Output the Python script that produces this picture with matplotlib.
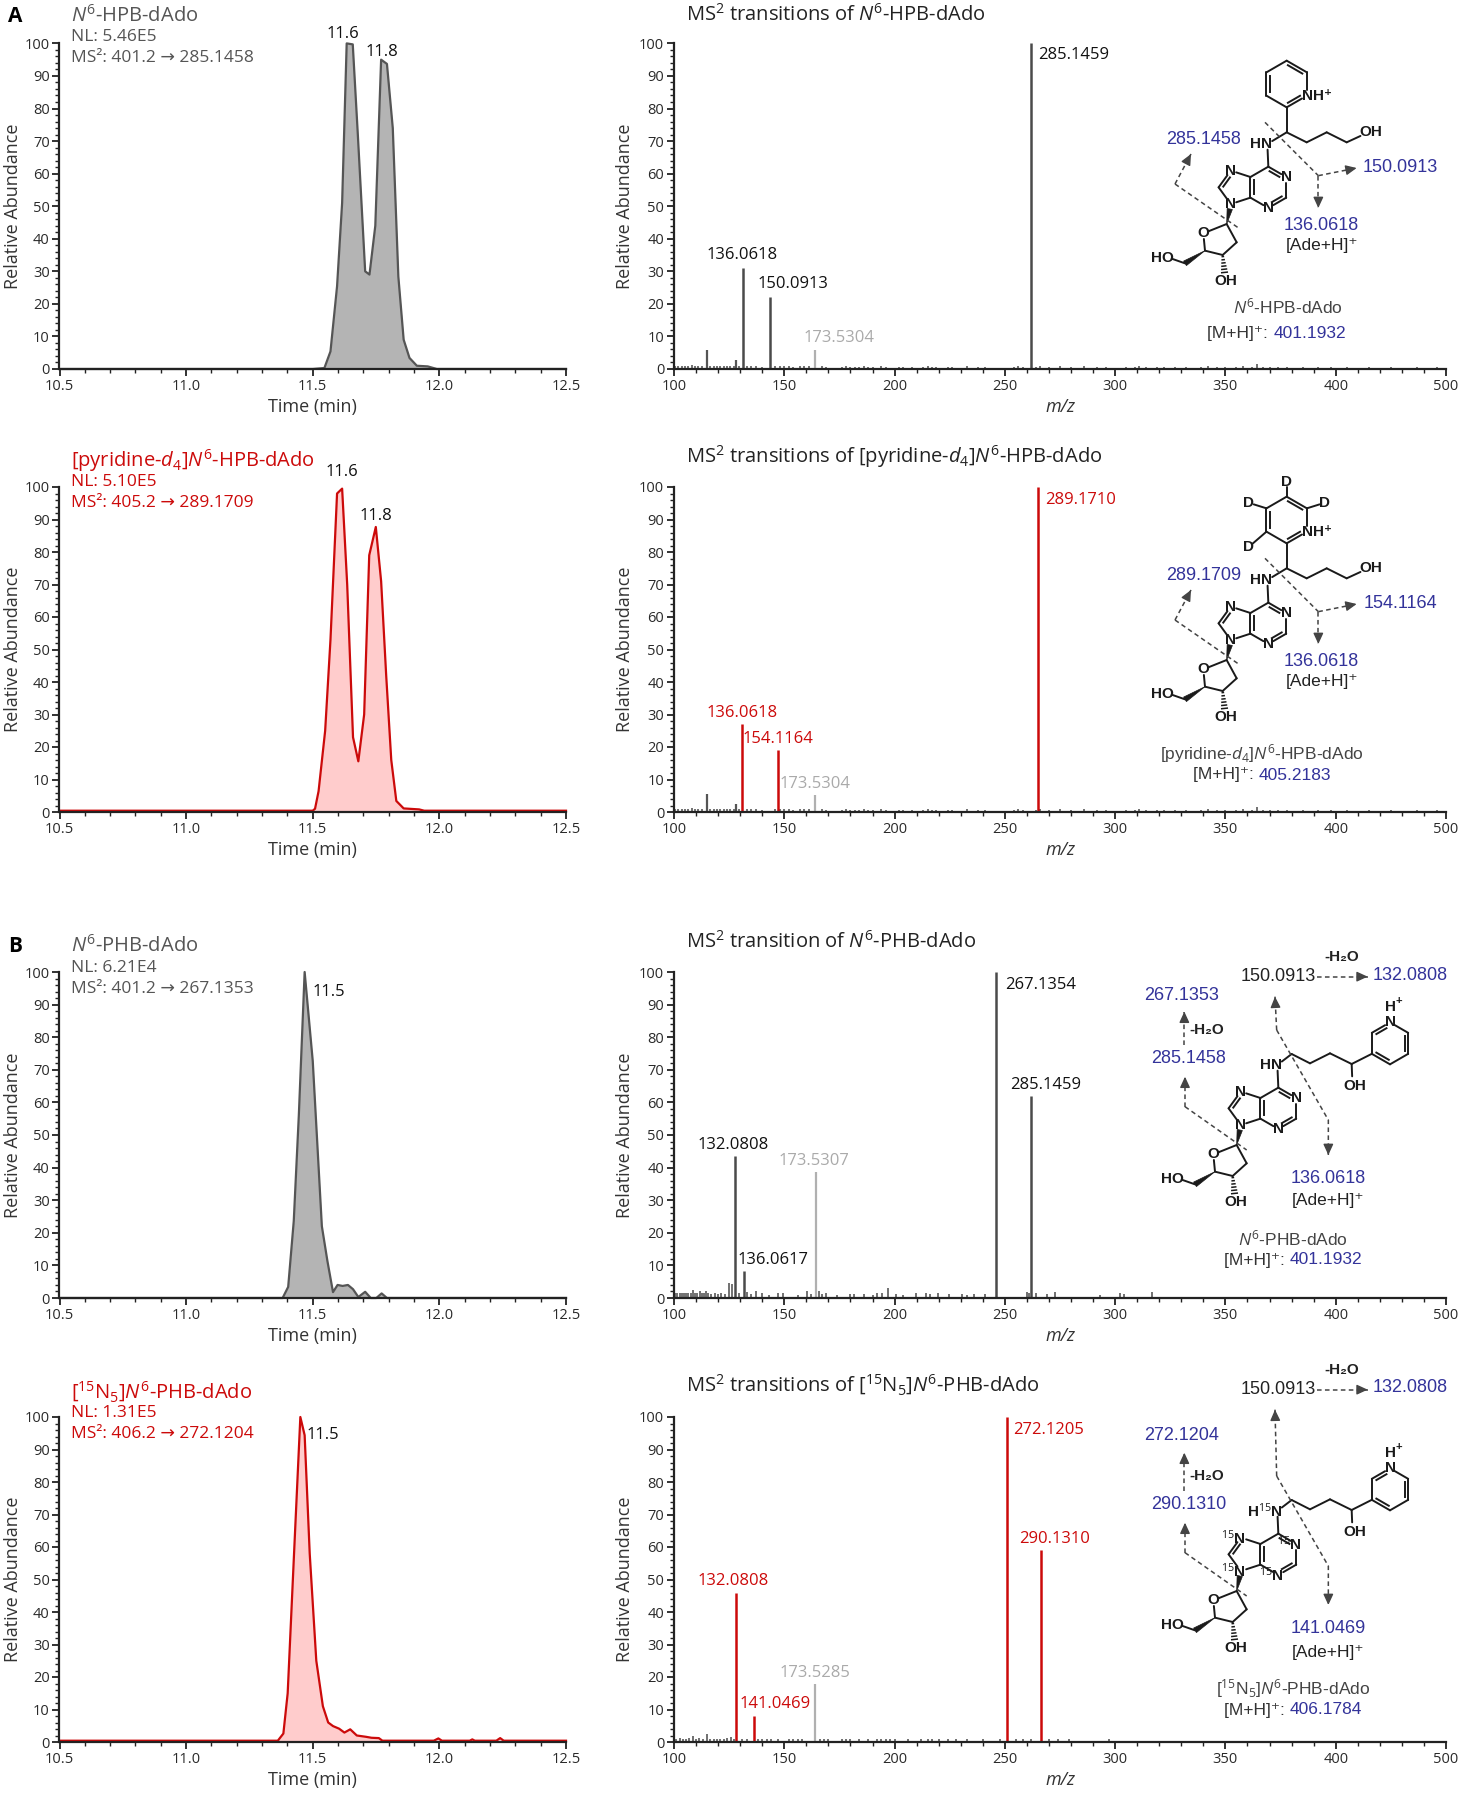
import matplotlib
matplotlib.use("Agg")
import matplotlib.pyplot as plt
import numpy as np
from matplotlib.patches import Polygon
from matplotlib.offsetbox import TextArea, HPacker, AnnotationBbox
from matplotlib.ticker import MultipleLocator, FixedLocator

W, H = 1463, 1800
plt.rcParams["font.family"] = ["Open Sans", "DejaVu Sans"]
plt.rcParams["mathtext.fontset"] = "custom"
plt.rcParams["mathtext.rm"] = "Open Sans"
plt.rcParams["mathtext.it"] = "Open Sans:italic"
plt.rcParams["mathtext.bf"] = "Open Sans:bold"

GREY_LINE = "#555555"
GREY_FILL = "#b4b4b4"
RED_LINE = "#cc0a0a"
RED_FILL = "#ffcccc"
BLUE = "#33339a"
GHOST = "#aaaaaa"
STRUCT_FONT = ["Liberation Sans", "DejaVu Sans"]

# === CHROMATOGRAMS (time in min, relative abundance) ===
A1_T = [10.5, 11.50, 11.546, 11.570, 11.596, 11.616, 11.634, 11.658, 11.678, 11.707, 11.724,
        11.747, 11.770, 11.793, 11.816, 11.838, 11.859, 11.882, 11.911, 11.954, 11.99, 12.5]
A1_Y = [0, 0, 0.3, 5.4, 25.4, 51, 100, 99.7, 72, 30, 29, 44, 95, 93.7, 74, 28.4, 9, 3.4, 1,
        0.8, 0, 0]
A2_T = [10.5, 11.50, 11.509, 11.523, 11.549, 11.570, 11.596, 11.616, 11.636, 11.659, 11.680,
        11.703, 11.723, 11.749, 11.770, 11.790, 11.810, 11.830, 11.859, 11.920, 11.94, 12.5]
A2_Y = [0.4, 0.4, 1, 6.4, 25, 53, 98, 99.5, 70, 23, 15.6, 30, 79, 87.7, 71, 42, 16, 3.4, 1.1,
        0.8, 0.4, 0.4]
B3_T = [10.5, 11.381, 11.403, 11.425, 11.445, 11.468, 11.50, 11.536, 11.558, 11.58, 11.598,
        11.618, 11.639, 11.659, 11.68, 11.707, 11.729, 11.751, 11.772, 11.793, 12.5]
B3_Y = [0, 0, 3.4, 23.6, 56, 100, 72.7, 22, 11.3, 1.8, 4, 3.7, 4, 2.7, 0.3, 1.9, 0, 0, 1.4, 0, 0]
B4_T = [10.5, 11.362, 11.384, 11.401, 11.425, 11.451, 11.468, 11.488, 11.514, 11.540, 11.561,
        11.580, 11.604, 11.625, 11.648, 11.674, 11.71, 11.732, 11.761, 11.775, 11.978, 11.996,
        12.01, 12.12, 12.13, 12.14, 12.225, 12.24, 12.254, 12.5]
B4_Y = [0.4, 0.4, 2.6, 15, 56, 100, 94.4, 58, 25, 11, 6, 4.9, 4.1, 2.9, 3.9, 2, 1.6, 1.3, 1.2,
        0.4, 0.4, 1.1, 0.4, 0.4, 0.8, 0.4, 0.4, 1.2, 0.4, 0.4]

A1_PEAKS = [("11.6", 11.62, 103), ("11.8", 11.775, 97.5)]
A2_PEAKS = [("11.6", 11.616, 104.5), ("11.8", 11.749, 91)]
B3_PEAKS = [("11.5", 11.562, 94)]
B4_PEAKS = [("11.5", 11.540, 94.5)]

CHROM_XTICKS = [10.5, 11.0, 11.5, 12.0, 12.5]

# === MS2 SPECTRA (position on the drawn m/z axis, relative abundance) ===
A1_MAIN_MZ = [131.2, 143.6, 262.0]
A1_MAIN_H = [31, 22, 100]
A1_OTHER_MZ = [114.9, 128.2]
A1_OTHER_H = [5.9, 2.7]
A1_GHOST_MZ = [164.0]
A1_GHOST_H = [5.9]

A2_MAIN_MZ = [131.0, 147.2, 265.2]
A2_MAIN_H = [27, 19, 100]
A2_OTHER_MZ = [114.9, 128.2]
A2_OTHER_H = [5.5, 2.5]
A2_GHOST_MZ = [164.0]
A2_GHOST_H = [5.2]

B3_MAIN_MZ = [127.8, 131.6, 245.9, 262.0]
B3_MAIN_H = [43.5, 8.4, 100, 62]
B3_GHOST_MZ = [164.3]
B3_GHOST_H = [38.7]

B4_MAIN_MZ = [128.2, 136.2, 250.9, 266.5]
B4_MAIN_H = [46, 8, 100, 59]
B4_GHOST_MZ = [164.0]
B4_GHOST_H = [18]

HPB_NOISE = [(100.5, 1.0), (102.0, 1.0), (103.5, 0.9), (105.0, 1.0), (106.5, 1.0), (108.0, 1.1),
             (109.5, 1.0), (111.0, 1.0), (112.5, 0.9), (116.5, 1.0), (118.0, 1.0), (119.5, 0.9),
             (121.0, 1.0), (122.5, 1.0), (124.0, 0.9), (125.5, 1.0), (127.0, 1.0), (129.5, 0.9),
             (133.0, 0.8), (135.0, 0.8), (137.0, 0.8), (140.0, 0.7), (146.0, 0.8), (148.0, 0.8),
             (150.0, 0.8), (152.0, 0.8), (154.0, 0.7), (157.0, 0.8), (159.0, 0.8), (161.0, 0.8),
             (167.0, 0.8), (169.0, 0.7), (176.0, 0.7), (178.0, 0.8), (180.0, 0.7), (182.0, 0.7),
             (184.0, 0.7), (186.0, 0.8), (188.0, 0.7), (190.0, 0.7), (194.0, 0.8), (196.0, 0.7),
             (202.0, 0.7), (204.0, 0.7), (208.0, 0.7), (213.0, 0.7), (215.0, 0.8), (217.0, 0.7),
             (219.0, 0.7), (224.0, 0.7), (226.0, 0.7), (233.0, 0.8), (238.0, 0.7), (241.0, 0.7),
             (254.0, 0.7), (256.0, 0.8), (258.0, 0.7), (264.0, 0.7), (266.0, 0.8), (270.0, 0.7),
             (275.0, 0.8), (280.0, 0.7), (286.0, 0.8), (292.0, 0.7), (296.0, 0.7), (305.0, 0.7),
             (309.0, 0.7), (311.0, 0.8), (314.0, 0.7), (319.0, 0.7), (322.0, 0.7), (327.0, 0.7),
             (332.0, 0.7), (339.0, 0.7), (342.0, 0.8), (346.0, 0.7), (350.0, 0.7), (355.0, 0.7),
             (358.0, 0.8), (362.0, 0.7), (364.5, 1.5), (367.0, 0.7), (370.0, 0.7), (374.0, 0.7),
             (378.0, 0.7), (385.0, 0.7), (392.0, 0.7), (398.0, 0.7), (405.0, 0.7), (415.0, 0.7),
             (425.0, 0.7), (437.0, 0.7), (446.0, 0.7)]
B3_NOISE = [(100.5, 1.5), (101.5, 1.6), (102.5, 1.4), (103.5, 1.5), (104.5, 1.5), (105.5, 1.4),
            (106.5, 1.6), (107.5, 1.5), (108.6, 2.5), (109.5, 1.5), (110.5, 1.4), (111.6, 2.2),
            (112.5, 1.5), (113.5, 1.6), (114.4, 2.2), (115.5, 1.4), (117.0, 1.3), (118.5, 1.4),
            (120.0, 1.2), (121.5, 1.4), (123.0, 1.3), (124.8, 4.6), (126.4, 4.3), (129.5, 1.4),
            (133.2, 1.8), (135.0, 1.2), (137.1, 2.2), (139.9, 1.6), (143.0, 1.0), (147.1, 1.4),
            (149.4, 1.5), (156.0, 1.0), (160.1, 2.1), (162.0, 1.2), (165.7, 2.2), (167.0, 1.3),
            (168.9, 1.6), (174.0, 1.0), (180.0, 1.3), (181.5, 1.3), (186.3, 1.2), (190.0, 1.0),
            (192.1, 1.4), (194.4, 1.5), (197.2, 3.0), (200.5, 1.3), (204.0, 1.0), (209.5, 1.4),
            (214.2, 1.5), (216.0, 1.2), (219.5, 1.4), (224.6, 1.2), (230.6, 1.3), (233.0, 1.0),
            (236.2, 1.3), (240.8, 1.2), (259.9, 1.8), (261.0, 1.4), (264.0, 1.5), (269.1, 1.2),
            (272.9, 1.8), (293.3, 1.0), (302.3, 1.6), (303.9, 1.2), (316.9, 1.7)]
B4_NOISE = [(101.0, 1.0), (102.5, 1.1), (104.0, 1.0), (105.5, 1.0), (107.0, 1.1), (108.7, 2.0),
            (110.0, 1.0), (111.5, 1.1), (113.0, 1.0), (114.9, 2.6), (116.5, 1.0), (118.0, 1.0),
            (119.5, 1.0), (121.0, 1.0), (122.5, 1.0), (124.0, 1.1), (125.9, 1.5), (127.0, 1.0),
            (131.0, 1.0), (133.0, 1.0), (138.0, 0.8), (140.0, 0.8), (142.0, 0.8), (144.0, 0.8),
            (147.0, 0.8), (152.0, 0.8), (154.0, 0.8), (156.0, 0.8), (158.0, 0.8), (166.0, 0.8),
            (168.0, 0.8), (170.0, 0.8), (176.0, 0.8), (178.0, 0.8), (180.0, 0.8), (184.0, 0.8),
            (188.0, 0.8), (192.0, 0.8), (194.0, 0.8), (196.0, 0.9), (198.0, 0.8), (200.0, 0.8),
            (206.0, 0.8), (212.0, 0.8), (215.0, 0.8), (217.0, 0.8), (220.0, 0.8), (224.0, 0.8),
            (228.0, 0.8), (233.0, 0.8), (240.0, 0.8), (248.0, 0.8), (255.0, 0.8), (258.0, 0.8),
            (262.0, 0.8), (270.0, 0.8), (274.0, 0.8), (279.0, 0.8), (297.0, 0.8)]

# peak labels: text, x, y, colour, anchor ("c" = centred above, "l" = left edge at x)
A1_LABELS = [("136.0618", 131.0, 32.5, "#111111", "c"), ("150.0913", 154.0, 23.5, "#111111", "c"),
             ("173.5304", 174.6, 7.0, GHOST, "c"), ("285.1459", 265.0, 96.5, "#111111", "l")]
A2_LABELS = [("136.0618", 131.0, 28.0, RED_LINE, "c"), ("154.1164", 147.2, 20.0, RED_LINE, "c"),
             ("173.5304", 164.0, 6.0, GHOST, "c"), ("289.1710", 268.3, 96.0, RED_LINE, "l")]
B3_LABELS = [("132.0808", 126.7, 44.5, "#111111", "c"), ("136.0617", 145.0, 9.3, "#111111", "c"),
             ("173.5307", 163.5, 39.6, GHOST, "c"), ("267.1354", 250.0, 96.0, "#111111", "l"),
             ("285.1459", 268.6, 63.0, "#111111", "c")]
B4_LABELS = [("132.0808", 126.7, 47.0, RED_LINE, "c"), ("141.0469", 146.0, 9.3, RED_LINE, "c"),
             ("173.5285", 164.0, 18.8, GHOST, "c"), ("272.1205", 253.6, 96.0, RED_LINE, "l"),
             ("290.1310", 272.5, 60.0, RED_LINE, "c")]

SPEC_XTICKS = [100, 150, 200, 250, 300, 350, 400, 450]
SPEC_XTICKLABELS = ["100", "150", "200", "250", "300", "350", "400", "500"]

# layout in pixels: (top of 100 %, bottom of 0 %)
ROWS = [(43.4, 369.0), (487.0, 812.0), (972.0, 1298.0), (1417.0, 1742.0)]
CHROM_X = (59.5, 566.0)
SPEC_X = (674.0, 1446.0)

fig = plt.figure(figsize=(W / 100, H / 100), dpi=100)


def ftext(x, y, s, **kw):
    fig.text(x / W, 1 - y / H, s, **kw)


def style_axes(ax):
    for side in ("top", "right"):
        ax.spines[side].set_visible(False)
    for side in ("left", "bottom"):
        ax.spines[side].set_linewidth(1.6)
        ax.spines[side].set_color("#222222")
    ax.tick_params(which="major", direction="out", length=5, width=1.3, colors="#222222",
                   labelsize=10.5, labelcolor="#2a2a2a", pad=2)
    ax.tick_params(which="minor", direction="out", length=3, width=1.0, colors="#222222")
    ax.set_ylim(0, 100)
    ax.yaxis.set_major_locator(MultipleLocator(10))
    ax.yaxis.set_minor_locator(MultipleLocator(2))
    ax.set_ylabel("Relative Abundance", fontsize=13, color="#333333")


def make_axes(xpix, row):
    top, bottom = row
    return fig.add_axes([xpix[0] / W, 1 - bottom / H, (xpix[1] - xpix[0]) / W, (bottom - top) / H])


def chromatogram(row, t, y, line_color, fill_color, peaks):
    ax = make_axes(CHROM_X, row)
    style_axes(ax)
    ax.fill_between(t, y, 0, color=fill_color, lw=0)
    ax.plot(t, y, color=line_color, lw=1.6, clip_on=False, solid_joinstyle="round")
    ax.set_xlim(10.5, 12.5)
    ax.xaxis.set_major_locator(FixedLocator(CHROM_XTICKS))
    ax.xaxis.set_minor_locator(MultipleLocator(0.1))
    ax.set_xticklabels([f"{v:.1f}" for v in CHROM_XTICKS])
    for s, px, py in peaks:
        ax.text(px, py, s, ha="center", va="center", fontsize=12, color="#111111", clip_on=False)
    ax.set_xlabel("Time (min)", fontsize=13, color="#333333")
    ax.xaxis.set_label_coords(0.5, -29 / 325)
    ax.yaxis.set_label_coords(-(CHROM_X[0] - 22) / (CHROM_X[1] - CHROM_X[0]), 0.5)
    return ax


def spectrum(row, main_mz, main_h, main_color, other_mz, other_h, ghost_mz, ghost_h, noise, labels):
    ax = make_axes(SPEC_X, row)
    style_axes(ax)
    nz_mz = [m for m, _ in noise]
    nz_h = [v for _, v in noise]
    ax.vlines(nz_mz, 0, nz_h, color="#4a4a4a", lw=1.1)
    if other_mz:
        ax.vlines(other_mz, 0, other_h, color="#555555", lw=1.6)
    ax.vlines(ghost_mz, 0, ghost_h, color="#b0b0b0", lw=1.6)
    ax.vlines(main_mz, 0, main_h, color=main_color, lw=1.8)
    ax.set_xlim(100, 450)
    ax.xaxis.set_major_locator(FixedLocator(SPEC_XTICKS))
    ax.xaxis.set_minor_locator(MultipleLocator(10))
    ax.set_xticklabels(SPEC_XTICKLABELS)
    for s, px, py, col, anchor in labels:
        if anchor == "l":
            ax.text(px, py, s, ha="left", va="center", fontsize=12, color=col)
        else:
            ax.text(px, py, s, ha="center", va="bottom", fontsize=12, color=col)
    ax.set_xlabel("m/z", fontsize=13, style="italic", color="#333333")
    ax.xaxis.set_label_coords(0.5, -29 / 325)
    ax.yaxis.set_label_coords(-(SPEC_X[0] - 634.5) / (SPEC_X[1] - SPEC_X[0]), 0.5)
    return ax


# === STRUCTURE DRAWING HELPERS (coordinates in 1/3-pixel units of the region) ===
CORE = {
    "C6": (0, -62), "N1": (53.7, -31), "C2": (53.7, 31), "N3": (0, 62), "C4": (-53.7, 31),
    "C5": (-53.7, -31), "N7": (-112.7, -50.2), "C8": (-149.2, 0), "N9": (-112.7, 50.2),
    "N6": (-3, -130), "O4": (-195, 138), "C1s": (-125, 110), "C2s": (-95, 165),
    "C3s": (-137, 203), "C4s": (-190, 190), "C5s": (-250, 228),
}
HEX_C = (0, 0)
IMI_C = (-96.4, 0)
BOND_LW = 1.4


def shorten(p, q, sa, sb):
    p, q = np.array(p, float), np.array(q, float)
    u = (q - p) / np.hypot(*(q - p))
    return p + u * sa, q - u * sb


def bond(ax, p, q, sa=0, sb=0, lw=BOND_LW):
    a, b = shorten(p, q, sa, sb)
    ax.plot([a[0], b[0]], [a[1], b[1]], color="#1a1a1a", lw=lw, solid_capstyle="round")


def inner(ax, p, q, c, sa=0, sb=0):
    p, q, c = np.array(p, float), np.array(q, float), np.array(c, float)
    m = (p + q) / 2
    n = np.array([-(q - p)[1], (q - p)[0]])
    n /= np.hypot(*n)
    if np.dot(c - m, n) < 0:
        n = -n
    a, b = p + n * 10, q + n * 10
    a, b = shorten(a, b, 10 + sa, 10 + sb)
    ax.plot([a[0], b[0]], [a[1], b[1]], color="#1a1a1a", lw=BOND_LW)


def wedge(ax, p, q, width=16):
    p, q = np.array(p, float), np.array(q, float)
    d = q - p
    n = np.array([-d[1], d[0]]) / np.hypot(*d)
    ax.add_patch(Polygon([p, q + n * width / 2, q - n * width / 2], closed=True,
                         facecolor="#1a1a1a", edgecolor="#1a1a1a", lw=0.5))


def hashed(ax, p, q, width=16, n=6):
    p, q = np.array(p, float), np.array(q, float)
    d = q - p
    nn = np.array([-d[1], d[0]]) / np.hypot(*d)
    for k in range(n):
        f = (k + 0.5) / n
        c = p + d * f
        w = width * f / 2 + 1
        ax.plot([c[0] - nn[0] * w, c[0] + nn[0] * w], [c[1] - nn[1] * w, c[1] + nn[1] * w],
                color="#1a1a1a", lw=1.1)


def dashed(ax, pts, head=True):
    pts = np.array(pts, float)
    ax.plot(pts[:, 0], pts[:, 1], color="#444444", lw=1.1, ls=(0, (3, 2.2)))
    if head:
        end, prev = pts[-1], pts[-2]
        u = (end - prev) / np.hypot(*(end - prev))
        ax.annotate("", xy=end, xytext=end - u * 14,
                    arrowprops=dict(arrowstyle="-|>,head_length=0.65,head_width=0.3",
                                    color="#444444", lw=1.0, shrinkA=0, shrinkB=0))


def atom_text(ax, p, s, ha="center", size=11):
    ax.text(p[0], p[1], s, ha=ha, va="center", fontsize=size, fontweight="bold",
            family=STRUCT_FONT, color="#1a1a1a")


def mixed_line(ax, p, parts, size=12.5):
    boxes = [TextArea(s, textprops=dict(color=c, fontsize=size, family=STRUCT_FONT))
             for s, c in parts]
    pack = HPacker(children=boxes, align="baseline", pad=0, sep=0)
    ab = AnnotationBbox(pack, p, xycoords="data", frameon=False, box_alignment=(0.5, 0.5))
    ax.add_artist(ab)


def ring(center, r, start):
    cx, cy = center
    pts = []
    for k in range(6):
        a = np.radians(start + 60 * k)
        pts.append((cx + r * np.cos(a), cy - r * np.sin(a)))
    return pts


def draw_structure(region, center, kind, iso, texts, arrows):
    x0, y0, w, h = region
    ax = fig.add_axes([x0 / W, 1 - (y0 + h) / H, w / W, h / H])
    ax.set_xlim(0, 3 * w)
    ax.set_ylim(3 * h, 0)
    ax.axis("off")
    cx, cy = center

    def P(p):
        return (cx + p[0], cy + p[1])

    A = {k: P(v) for k, v in CORE.items()}
    S = 17
    # purine
    bond(ax, A["C6"], A["N1"], 0, S)
    bond(ax, A["N1"], A["C2"], S, 0)
    bond(ax, A["C2"], A["N3"], 0, S)
    bond(ax, A["N3"], A["C4"], S, 0)
    bond(ax, A["C4"], A["C5"])
    bond(ax, A["C5"], A["C6"])
    bond(ax, A["C5"], A["N7"], 0, S)
    bond(ax, A["N7"], A["C8"], S, 0)
    bond(ax, A["C8"], A["N9"], 0, S)
    bond(ax, A["N9"], A["C4"], S, 0)
    bond(ax, A["C6"], A["N6"], 0, S)
    inner(ax, A["C6"], A["N1"], P(HEX_C), 0, 8)
    inner(ax, A["C2"], A["N3"], P(HEX_C), 0, 8)
    inner(ax, A["C4"], A["C5"], P(HEX_C))
    inner(ax, A["N7"], A["C8"], P(IMI_C), 8, 0)
    # sugar
    bond(ax, A["O4"], A["C1s"], S, 0)
    bond(ax, A["C1s"], A["C2s"])
    bond(ax, A["C2s"], A["C3s"])
    bond(ax, A["C3s"], A["C4s"])
    bond(ax, A["C4s"], A["O4"], 0, S)
    a, b = shorten(A["C1s"], A["N9"], 0, 15)
    wedge(ax, a, b)
    wedge(ax, A["C4s"], A["C5s"])
    bond(ax, A["C5s"], P((-290, 214)))
    hashed(ax, A["C3s"], P((-131, 260)))
    atom_text(ax, P((-318, 212)), "HO")
    atom_text(ax, P((-128, 280)), "OH")
    atom_text(ax, A["O4"], "O")
    for key in ("N1", "N3", "N7", "N9"):
        if iso:
            atom_text(ax, (A[key][0] + 16, A[key][1]), r"$^{15}$N", ha="right")
        else:
            atom_text(ax, A[key], "N")
    if iso:
        atom_text(ax, (A["N6"][0] + 16, A["N6"][1]), r"H$^{15}$N", ha="right")
    else:
        atom_text(ax, (A["N6"][0] - 18, A["N6"][1]), "HN")

    if kind == "HPB":
        ch = P((55, -165))
        bond(ax, A["N6"], ch, 17, 0)
        chain = [ch, P((115, -135)), P((175, -165)), P((235, -135))]
        for p, q in zip(chain[:-1], chain[1:]):
            bond(ax, p, q)
        bond(ax, chain[-1], P((300, -165)), 0, 26)
        atom_text(ax, P((307, -165)), "OH")
        rc = P((55, -310))
        v = ring(rc, 70, 90)  # top, UL, LL, bottom, LR, UR
        top, ul, ll, bot, lr, ur = v
        bond(ax, ch, bot)
        for i in range(6):
            sa = S if i == 4 else 0
            sb = S if (i + 1) % 6 == 4 else 0
            bond(ax, v[i], v[(i + 1) % 6], sa, sb)
        inner(ax, bot, lr, rc, 0, 8)
        inner(ax, ur, top, rc)
        inner(ax, ul, ll, rc)
        atom_text(ax, (lr[0] - 16, lr[1]), "NH⁺", ha="left")
        if texts.get("deut"):
            for vert, lab in ((top, (55, -425)), (ul, (-60, -362)), (ur, (170, -362)),
                              (ll, (-60, -228))):
                bond(ax, vert, P(lab), 0, 17)
                atom_text(ax, P(lab), "D")
    else:
        chain = [A["N6"], P((40, -163)), P((95, -135)), P((155, -165)), P((220, -133))]
        bond(ax, chain[0], chain[1], 17, 0)
        for p, q in zip(chain[1:-1], chain[2:]):
            bond(ax, p, q)
        ch = chain[-1]
        bond(ax, ch, P((222, -82)), 0, 14)
        atom_text(ax, P((230, -68)), "OH")
        rc = P((335, -195))
        v = ring(rc, 63, 90)
        top, ul, ll, bot, lr, ur = v
        bond(ax, ch, ll)
        for i in range(6):
            sa = S if i == 0 else 0
            sb = S if (i + 1) % 6 == 0 else 0
            bond(ax, v[i], v[(i + 1) % 6], sa, sb)
        inner(ax, ul, top, rc, 0, 8)
        inner(ax, ur, lr, rc)
        inner(ax, bot, ll, rc)
        atom_text(ax, top, "N")
        atom_text(ax, P((335, -303)), "H")
        atom_text(ax, P((362, -322)), "+", size=8)

    for pts, head in arrows:
        dashed(ax, [P(p) for p in pts], head)
    for item in texts["items"]:
        pos, s, col, size, weight = item
        ax.text(*P(pos), s, ha="center", va="center", fontsize=size, color=col,
                fontweight=weight, family=STRUCT_FONT)
    mixed_line(ax, P(texts["mh_pos"]), [("[M+H]⁺: ", "#333333"), (texts["mh"], BLUE)])


# === BUILD THE FIGURE ===
chromatogram(ROWS[0], A1_T, A1_Y, GREY_LINE, GREY_FILL, A1_PEAKS)
chromatogram(ROWS[1], A2_T, A2_Y, RED_LINE, RED_FILL, A2_PEAKS)
chromatogram(ROWS[2], B3_T, B3_Y, GREY_LINE, GREY_FILL, B3_PEAKS)
chromatogram(ROWS[3], B4_T, B4_Y, RED_LINE, RED_FILL, B4_PEAKS)

spectrum(ROWS[0], A1_MAIN_MZ, A1_MAIN_H, "#4a4a4a", A1_OTHER_MZ, A1_OTHER_H, A1_GHOST_MZ,
         A1_GHOST_H, HPB_NOISE, A1_LABELS)
spectrum(ROWS[1], A2_MAIN_MZ, A2_MAIN_H, RED_LINE, A2_OTHER_MZ, A2_OTHER_H, A2_GHOST_MZ,
         A2_GHOST_H, HPB_NOISE, A2_LABELS)
spectrum(ROWS[2], B3_MAIN_MZ, B3_MAIN_H, "#4a4a4a", [], [], B3_GHOST_MZ, B3_GHOST_H,
         B3_NOISE, B3_LABELS)
spectrum(ROWS[3], B4_MAIN_MZ, B4_MAIN_H, RED_LINE, [], [], B4_GHOST_MZ, B4_GHOST_H,
         B4_NOISE, B4_LABELS)

# chromatogram headers
CHROM_HEAD = [
    ((16, 37, 58.5), r"$N^{6}$-HPB-dAdo", "NL: 5.46E5", "MS²: 401.2 → 285.1458", GREY_LINE),
    ((461, 482, 503), r"[pyridine-$d_4$]$N^{6}$-HPB-dAdo", "NL: 5.10E5",
     "MS²: 405.2 → 289.1709", RED_LINE),
    ((946, 968, 989), r"$N^{6}$-PHB-dAdo", "NL: 6.21E4", "MS²: 401.2 → 267.1353", GREY_LINE),
    ((1391.5, 1413, 1433.5), r"[$^{15}$N$_5$]$N^{6}$-PHB-dAdo", "NL: 1.31E5",
     "MS²: 406.2 → 272.1204", RED_LINE),
]
for ys, title, nl, ms, col in CHROM_HEAD:
    ftext(71, ys[0], title, fontsize=14.5, color=col, va="center")
    ftext(71, ys[1], nl, fontsize=12.5, color=col, va="center")
    ftext(71, ys[2], ms, fontsize=12.5, color=col, va="center")

SPEC_TITLES = [(15, r"MS$^2$ transitions of $N^{6}$-HPB-dAdo"),
               (457, r"MS$^2$ transitions of [pyridine-$d_4$]$N^{6}$-HPB-dAdo"),
               (942, r"MS$^2$ transition of $N^{6}$-PHB-dAdo"),
               (1385, r"MS$^2$ transitions of [$^{15}$N$_5$]$N^{6}$-PHB-dAdo")]
for y, s in SPEC_TITLES:
    ftext(686, y, s, fontsize=14.5, color="#222222", va="center")

ftext(8, 16, "A", fontsize=15, fontweight="bold", va="center")
ftext(8, 946, "B", fontsize=15, fontweight="bold", va="center")

# structures
HPB_ARROWS = [([(-280, -10), (-85, 125)], False), ([(-280, -10), (-232, -100)], True),
              ([(-10, -195), (150, -35)], False), ([(150, -35), (265, -58)], True),
              ([(150, -35), (150, 62)], True)]


def hpb_texts(frag, side, name, mh, name_pos, mh_pos, deut):
    return {"deut": deut, "mh": mh, "mh_pos": mh_pos,
            "items": [((-195, -145), frag, BLUE, 13, "normal"),
                      ((395, -60), side, BLUE, 13, "normal"),
                      ((160, 115), "136.0618", BLUE, 13, "normal"),
                      ((160, 174), "[Ade+H]⁺", "#222222", 12.5, "normal"),
                      (name_pos, name, "#444444", 12.5, "normal")]}


draw_structure((1110, 34, 353, 330), (475, 460), "HPB", False,
               hpb_texts("285.1458", "150.0913", r"$N^{6}$-HPB-dAdo", "401.1932",
                         (60, 358), (25, 438), False),
               HPB_ARROWS)
draw_structure((1110, 470, 353, 330), (475, 460), "HPB", False,
               hpb_texts("289.1709", "154.1164", r"[pyridine-$d_4$]$N^{6}$-HPB-dAdo", "405.2183",
                         (-20, 390), (-20, 455), True),
               HPB_ARROWS)


def phb_parts(top_dy, frag, frag2, ade, name, mh, frag2_dy=0, low_dy=0):
    arrows = [([(-280, -5), (-95, 125)], False), ([(-280, -5), (-280, -95)], True),
              ([(-282, -190), (-282, -290 + frag2_dy)], True),
              ([(-5, -235), (150, 35), (150, 140 + low_dy)], True),
              ([(-5, -235), (-10, -335 + top_dy)], True),
              ([(115, -395 + top_dy), (268, -395 + top_dy)], True)]
    texts = {"mh": mh, "mh_pos": (45, 455 + low_dy),
             "items": [((-270, -150), frag, BLUE, 13, "normal"),
                       ((-215, -235), "-H₂O", "#222222", 11, "bold"),
                       ((-290, -340 + frag2_dy), frag2, BLUE, 13, "normal"),
                       ((0, -395 + top_dy), "150.0913", "#222222", 13, "normal"),
                       ((190, -453 + top_dy), "-H₂O", "#222222", 11, "bold"),
                       ((395, -400 + top_dy), "132.0808", BLUE, 13, "normal"),
                       ((150, 210 + low_dy), ade, BLUE, 13, "normal"),
                       ((150, 275 + low_dy * 1.5), "[Ade+H]⁺", "#222222", 12.5, "normal"),
                       ((45, 390 + low_dy), name, "#444444", 12.5, "normal")]}
    return texts, arrows


t3, a3 = phb_parts(0, "285.1458", "267.1353", "136.0618", r"$N^{6}$-PHB-dAdo", "401.1932")
draw_structure((1090, 920, 373, 350), (565, 565), "PHB", False, t3, a3)
t4, a4 = phb_parts(-99, "290.1310", "272.1204", "141.0469", r"[$^{15}$N$_5$]$N^{6}$-PHB-dAdo",
                   "406.1784", frag2_dy=-15, low_dy=12)
draw_structure((1090, 1366, 373, 350), (565, 565), "PHB", True, t4, a4)

fig.savefig("out.png", dpi=100)
